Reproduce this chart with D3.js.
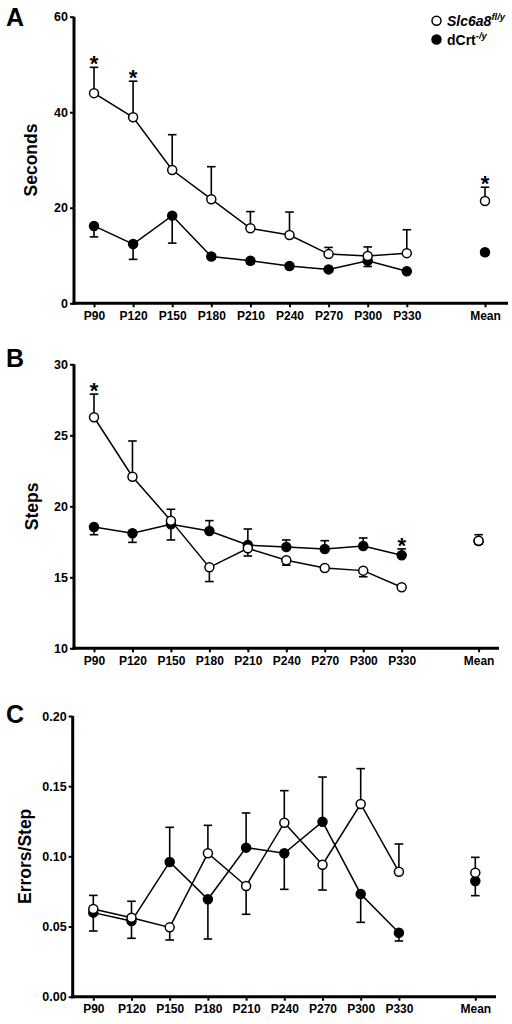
<!DOCTYPE html>
<html>
<head>
<meta charset="utf-8">
<script src="https://cdn.jsdelivr.net/npm/d3@7"></script>
<style>
  html, body { margin: 0; padding: 0; background: #fff; }
  svg { display: block; }
  text { font-family: "Liberation Sans", Arial, sans-serif; font-weight: bold; fill: #000; }
</style>
</head>
<body>
<svg id="chart" width="512" height="1024"></svg>
<script>
// ---------- data ----------
const categories = ["P90","P120","P150","P180","P210","P240","P270","P300","P330"];
const meanLabel = "Mean";
const seriesNames = ["Slc6a8", "dCrt"];
const seriesSup = ["fl/y", "-/y"];

// Panel A: Seconds (last value = Mean). Signed error: + bar up, - bar down
const secondsOpen      = [44.0, 38.95, 27.9, 21.8, 15.7, 14.3, 10.3, 9.9, 10.5, 21.4];
const secondsOpenErr   = [5.4, 7.55, 7.4, 6.8, 3.5, 4.8, 1.4, 1.9, 4.9, 2.9];
const secondsFilled    = [16.2, 12.4, 18.35, 9.8, 8.9, 7.8, 7.1, 8.9, 6.7, 10.7];
const secondsFilledErr = [-2.3, -3.2, -5.75, -0.5, -0.6, -0.5, -0.4, -1.2, -0.4, -0.6];
const secondsTicks = [0, 20, 40, 60];
const secondsStarsOpen = [0, 1, 9];
const secondsStarsFilled = [];

// Panel B: Steps
const stepsOpen      = [26.27, 22.08, 18.99, 15.7, 17.04, 16.2, 15.65, 15.47, 14.3, 17.58];
const stepsOpenErr   = [1.63, 2.52, 0.8, -1.0, -0.54, -0.35, -0.15, -0.43, -0.1, 0.42];
const stepsFilled    = [18.54, 18.1, 18.73, 18.26, 17.27, 17.13, 16.99, 17.2, 16.55, 17.55];
const stepsFilledErr = [-0.54, -0.64, -1.1, 0.73, 1.13, 0.5, 0.59, 0.57, 0.45, -0.2];
const stepsTicks = [10, 15, 20, 25, 30];
const stepsStarsOpen = [0];
const stepsStarsFilled = [8];

// Panel C: Errors/Step
const errorsOpen      = [0.0625, 0.0563, 0.0494, 0.1022, 0.0789, 0.124, 0.094, 0.1373, 0.089, 0.0884];
const errorsOpenErr   = [0.0097, 0.0117, -0.009, 0.0199, -0.0202, 0.0228, -0.018, 0.0252, 0.0198, 0.0109];
const errorsFilled    = [0.0599, 0.0539, 0.096, 0.0694, 0.1062, 0.1022, 0.1247, 0.0732, 0.0456, 0.0824];
const errorsFilledErr = [-0.0131, -0.0123, 0.0247, -0.0283, 0.0247, -0.0257, 0.0318, -0.0202, -0.0059, -0.0104];
const errorsTicks = [0, 0.05, 0.10, 0.15, 0.20];
const errorsStarsOpen = [];
const errorsStarsFilled = [];

// ---------- layout ----------
const svg = d3.select("#chart");
const labels = categories.concat([meanLabel]);
// x positions: categories at 0..8, Mean at 10
const xIndex = labels.map((d, i) => i < categories.length ? i : categories.length + 1);

const panels = [
  { letter: "A", title: "Seconds", open: secondsOpen, openErr: secondsOpenErr, filled: secondsFilled, filledErr: secondsFilledErr,
    ticks: secondsTicks, fmt: d3.format("d"), starsOpen: secondsStarsOpen, starsFilled: secondsStarsFilled,
    domain: [0, 60], yRange: [303.3, 16.7], xRange: [94, 485], yAxisX: 74, axisEnd: 508,
    letterPos: [6, 26], titleX: 37 },
  { letter: "B", title: "Steps", open: stepsOpen, openErr: stepsOpenErr, filled: stepsFilled, filledErr: stepsFilledErr,
    ticks: stepsTicks, fmt: d3.format("d"), starsOpen: stepsStarsOpen, starsFilled: stepsStarsFilled,
    domain: [10, 30], yRange: [648.3, 364.3], xRange: [94, 478.6], yAxisX: 74, axisEnd: 499,
    letterPos: [6, 367], titleX: 38 },
  { letter: "C", title: "Errors/Step", open: errorsOpen, openErr: errorsOpenErr, filled: errorsFilled, filledErr: errorsFilledErr,
    ticks: errorsTicks, fmt: d3.format(".2f"), starsOpen: errorsStarsOpen, starsFilled: errorsStarsFilled,
    domain: [0, 0.2], yRange: [996.7, 716], xRange: [93.3, 475.3], yAxisX: 72.7, axisEnd: 496,
    letterPos: [6, 723], titleX: 31 }
];

const R = 4.5;

panels.forEach(p => {
  const g = svg.append("g");
  const x = d3.scaleLinear().domain([0, categories.length + 1]).range(p.xRange);
  const y = d3.scaleLinear().domain(p.domain).range(p.yRange);
  const y0 = p.yRange[0];

  // x axis
  const xAxis = d3.axisBottom(x)
    .tickValues(xIndex)
    .tickFormat((d) => labels[xIndex.indexOf(d)])
    .tickSize(4).tickPadding(4);
  const gx = g.append("g").attr("transform", `translate(0,${y0})`).call(xAxis);
  gx.select(".domain").remove();
  gx.selectAll(".tick line").attr("stroke", "#000").attr("stroke-width", 2);
  gx.selectAll(".tick text").style("font-size", "12px").style("font-weight", "bold")
    .attr("font-family", "Liberation Sans, Arial, sans-serif");

  // y axis
  const yAxis = d3.axisLeft(y).tickValues(p.ticks).tickFormat(p.fmt).tickSize(4).tickPadding(2);
  const gy = g.append("g").attr("transform", `translate(${p.yAxisX},0)`).call(yAxis);
  gy.select(".domain").remove();
  gy.selectAll(".tick line").attr("stroke", "#000").attr("stroke-width", 2);
  gy.selectAll(".tick text").style("font-size", "12.5px").style("font-weight", "bold")
    .attr("font-family", "Liberation Sans, Arial, sans-serif");

  // axis lines
  g.append("line").attr("x1", p.yAxisX).attr("x2", p.yAxisX)
    .attr("y1", y0 + 1.5).attr("y2", p.yRange[1])
    .attr("stroke", "#000").attr("stroke-width", 3);
  g.append("line").attr("x1", p.yAxisX - 1.5).attr("x2", p.axisEnd)
    .attr("y1", y0).attr("y2", y0)
    .attr("stroke", "#000").attr("stroke-width", 3);

  // titles
  g.append("text").text(p.letter)
    .attr("x", p.letterPos[0]).attr("y", p.letterPos[1])
    .style("font-size", "25px");
  g.append("text").text(p.title)
    .attr("transform", `translate(${p.titleX},${(p.yRange[0] + p.yRange[1]) / 2}) rotate(-90)`)
    .attr("text-anchor", "middle")
    .style("font-size", "17.5px");

  const series = [
    { vals: p.filled, err: p.filledErr, fill: "#000", stars: p.starsFilled },
    { vals: p.open, err: p.openErr, fill: "#fff", stars: p.starsOpen }
  ];

  const pts = s => s.vals.map((v, i) => ({ i: xIndex[i], v, e: s.err[i] }));

  // error bars
  series.forEach(s => {
    const eg = g.append("g");
    pts(s).forEach(d => {
      const ye = y(d.v + d.e);
      eg.append("line").attr("x1", x(d.i)).attr("x2", x(d.i))
        .attr("y1", y(d.v)).attr("y2", ye).attr("stroke", "#000").attr("stroke-width", 1.6);
      eg.append("line").attr("x1", x(d.i) - 4.3).attr("x2", x(d.i) + 4.3)
        .attr("y1", ye).attr("y2", ye).attr("stroke", "#000").attr("stroke-width", 1.6);
    });
  });

  // lines (categories only)
  const line = d3.line().x(d => x(d.i)).y(d => y(d.v));
  series.forEach(s => {
    g.append("path").datum(pts(s).slice(0, categories.length))
      .attr("d", line).attr("fill", "none").attr("stroke", "#000").attr("stroke-width", 1.5);
  });

  // markers
  series.forEach(s => {
    g.append("g").selectAll("circle").data(pts(s)).join("circle")
      .attr("cx", d => x(d.i)).attr("cy", d => y(d.v)).attr("r", R)
      .attr("fill", s.fill).attr("stroke", "#000").attr("stroke-width", 1.5);
  });

  // significance stars
  series.forEach(s => {
    const P = pts(s);
    s.stars.forEach(k => {
      const d = P[k];
      const top = Math.min(y(d.v + d.e), y(d.v) - R);
      g.append("text").text("*")
        .attr("x", x(d.i)).attr("y", top + 4)
        .attr("text-anchor", "middle")
        .style("font-size", "22px");
    });
  });
});

// legend
const lg = svg.append("g");
const legY = [20.7, 39.5];
const legFill = ["#fff", "#000"];
seriesNames.forEach((name, k) => {
  lg.append("circle").attr("cx", 436.5).attr("cy", legY[k]).attr("r", R)
    .attr("fill", legFill[k]).attr("stroke", "#000").attr("stroke-width", 1.5);
  const t = lg.append("text").attr("x", 447).attr("y", legY[k] + 5).style("font-size", "14px");
  t.append("tspan").text(name).style("font-style", k === 0 ? "italic" : "normal");
  t.append("tspan").text(seriesSup[k]).attr("dy", -6).style("font-size", "9.5px")
    .style("font-style", "italic");
});
</script>
</body>
</html>
